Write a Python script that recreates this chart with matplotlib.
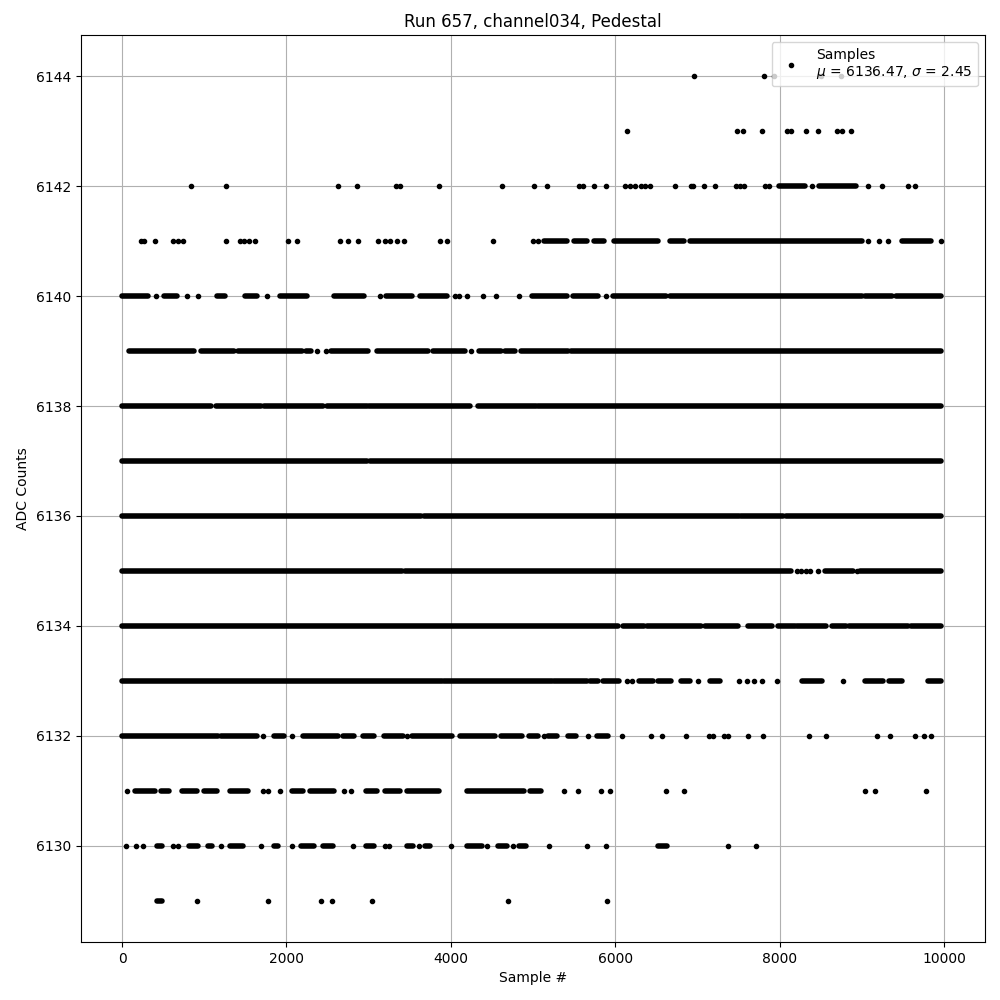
import matplotlib
matplotlib.use("Agg")
import matplotlib.pyplot as plt

# ADC level -> isolated sample positions
dots = {
    6144: [6957, 7815, 7934, 8506, 8743],
    6143: [6147, 7480, 7550, 7788, 8095, 8144, 8318, 8464, 8694, 8764, 8869],
    6142: [844, 1263, 2631, 2861, 3328, 3384, 3852, 4626, 5017, 5171, 5555, 5603,
           5743, 5889, 6113, 6175, 6238, 6315, 6364, 6420, 6727, 6922, 6950, 7076,
           7208, 7466, 7515, 7571, 7822, 7871, 8394, 9071, 9246, 9560, 9643],
    6141: [230, 272, 398, 614, 684, 740, 1263, 1430, 1486, 1542, 1612, 2017, 2128,
           2652, 2749, 2868, 3112, 3203, 3259, 3349, 3426, 3866, 3957, 4508, 5003,
           5059, 9071, 9211, 9316, 9958],
    6140: [412, 795, 928, 1765, 3133, 4047, 4096, 4201, 4396, 4550, 4829, 5889],
    6139: [2373, 2477, 4243],
    6138: [],
    6137: [],
    6136: [],
    6135: [8213, 8265, 8318, 8374, 8464, 8939],
    6134: [],
    6133: [6141, 6210, 7013, 7501, 7606, 7690, 7787, 7969, 8771],
    6132: [1717, 2066, 3468, 5129, 5666, 6085, 6441, 6566, 6866, 7139, 7188, 7327,
           7376, 7613, 7801, 8360, 8569, 9183, 9344, 9651, 9762, 9839],
    6131: [63, 1709, 1779, 1919, 2700, 2791, 5373, 5548, 5827, 5931, 6615, 6838,
           9036, 9162, 9776],
    6130: [49, 167, 251, 614, 684, 1207, 1695, 2073, 2812, 3196, 3252, 3608, 4005,
           4438, 4759, 5192, 5659, 5889, 7369, 7718],
    6129: [907, 1779, 2421, 2554, 3035, 4696, 5903],
}

# ADC level -> (first, last) sample of stretches where the dots merge into a bar
runs = {
    6142: [(7990, 8304), (8478, 8932)],
    6141: [(5136, 5408), (5499, 5652), (5743, 5862), (5987, 6524), (6664, 6838),
           (6908, 9002), (9490, 9839)],
    6140: [(0, 314), (509, 663), (1151, 1256), (1493, 1640), (1919, 2247),
           (2582, 2945), (3210, 3524), (3622, 3957), (4989, 5408), (5485, 5792),
           (5973, 6615), (6664, 9002), (9036, 9364), (9420, 9958)],
    6139: [(84, 872), (956, 1361), (1410, 2184), (2233, 2303), (2540, 2987),
           (3105, 3726), (3782, 4173), (4347, 4605), (4654, 4780), (4850, 5429),
           (5457, 9958)],
    6138: [(0, 1082), (1137, 1688), (1730, 2449), (2491, 2980), (3001, 4236),
           (4327, 5038), (5066, 9958)],
    6137: [(0, 2980), (3021, 9958)],
    6136: [(0, 3642), (3677, 7501), (7536, 8039), (8081, 9958)],
    6135: [(0, 3405), (3440, 8143), (8555, 8897), (8981, 9958)],
    6134: [(0, 6036), (6092, 6350), (6385, 7048), (7090, 7488), (7613, 7906),
           (7983, 8185), (8213, 8569), (8639, 8806), (8848, 9560), (9595, 9958)],
    6133: [(0, 3894), (3922, 5233), (5261, 5652), (5687, 5792), (5848, 6043),
           (6294, 6455), (6524, 6678), (6804, 6908), (7153, 7271), (8269, 8513),
           (9036, 9260), (9330, 9490), (9811, 9958)],
    6132: [(0, 1165), (1200, 1640), (1849, 1968), (2198, 2631), (2686, 2826),
           (2931, 3070), (3189, 3419), (3524, 4012), (4117, 4536), (4606, 4864),
           (4955, 5059), (5178, 5289), (5429, 5527), (5778, 5917)],
    6131: [(154, 405), (468, 572), (733, 907), (998, 1151), (1312, 1535),
           (2066, 2198), (2289, 2582), (2966, 3105), (3196, 3384), (3468, 3852),
           (4201, 4885), (4969, 5094)],
    6130: [(419, 488), (809, 928), (1047, 1096), (1312, 1465), (1849, 1898),
           (2177, 2338), (2442, 2561), (2966, 3070), (3468, 3538), (3684, 3747),
           (4201, 4375), (4578, 4689), (4829, 4920), (6524, 6629)],
    6129: [(419, 488)],
}

MU, SIGMA = 6136.47, 2.45


def main() -> None:
    fig, ax = plt.subplots(figsize=(10, 10), dpi=100)
    fig.subplots_adjust(left=0.081, right=0.985, top=0.965, bottom=0.058)

    xs = [x for lvl, pts in dots.items() for x in pts]
    ys = [lvl for lvl, pts in dots.items() for _ in pts]
    ax.plot(xs, ys, ".", color="black",
            label=f"Samples\n$\\mu$ = {MU:.2f}, $\\sigma$ = {SIGMA:.2f}")

    for lvl, spans in runs.items():
        for x0, x1 in spans:
            ax.hlines(lvl, x0, x1, colors="black", linewidth=4,
                      capstyle="round", zorder=2)

    ax.set_xlim(-500, 10499)
    ax.set_ylim(6128.25, 6144.75)
    ax.set_title("Run 657, channel034, Pedestal")
    ax.set_xlabel("Sample #")
    ax.set_ylabel("ADC Counts")
    ax.grid(True)
    ax.legend(loc="upper right")

    fig.savefig("out.png", dpi=100)
    plt.close(fig)


if __name__ == "__main__":
    main()
